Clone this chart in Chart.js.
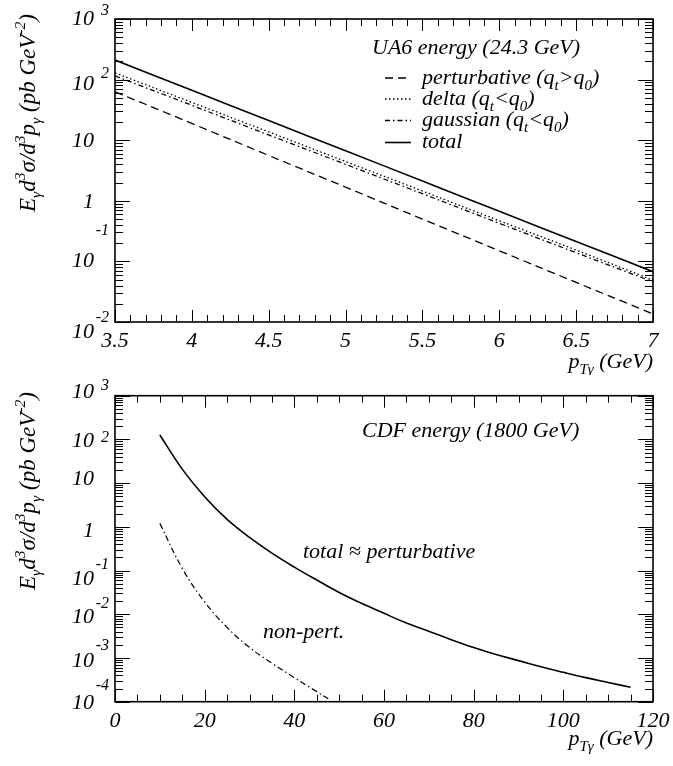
<!DOCTYPE html>
<html lang="en">
<head>
<meta charset="UTF-8">
<title>Direct photon cross sections</title>
<script src="https://cdn.jsdelivr.net/npm/chart.js@4/dist/chart.umd.min.js"></script>
<style>
    body { margin: 0; background: #fff; }
    .box { position: absolute; left: 0; width: 673px; }
</style>
</head>
<body>

<div class="box" style="top: 0; height: 375px"><canvas id="chartTop" width="673" height="375"></canvas></div>
<div class="box" style="top: 375px; height: 391px"><canvas id="chartBottom" width="673" height="391"></canvas></div>

<script type="text/javascript">

    // UA6 energy (24.3 GeV), pt in GeV, values in pb GeV^-2
    var ptUA6 = [3.5, 4.0, 4.5, 5.0, 5.5, 6.0, 6.5, 7.0];
    var ua6Perturbative = [63, 18.9, 5.6, 1.68, 0.50, 0.150, 0.045, 0.0136];
    var ua6Delta = [129, 42, 13.7, 4.45, 1.45, 0.47, 0.154, 0.049];
    var ua6Gaussian = [115, 37.6, 12.2, 4.0, 1.31, 0.425, 0.139, 0.046];
    var ua6Total = [210, 66.5, 21.1, 6.7, 2.12, 0.67, 0.213, 0.0676];

    // CDF energy (1800 GeV)
    var ptCDF = [10, 15, 20, 25, 30, 35, 40, 45, 50, 55, 60, 65, 70, 75, 80, 85, 90, 95, 100, 105, 110, 115];
    var cdfTotal = [126, 20.9, 4.9, 1.48, 0.575, 0.251, 0.120, 0.0607, 0.0316, 0.0178, 0.0105, 0.0063,
        0.0041, 0.00263, 0.00174, 0.0012, 0.00087, 0.00063, 0.00047, 0.000355, 0.000275, 0.000214];
    var ptCDFNonPert = [10, 15, 20, 25, 30, 35, 40, 45, 48];
    var cdfNonPert = [1.2, 0.112, 0.0191, 0.0050, 0.00174, 0.00076, 0.000355, 0.00017, 0.00011];

    var xTicksUA6 = ["3.5", "4", "4.5", "5", "5.5", "6", "6.5", "7"];
    var xTicksCDF = ["0", "20", "40", "60", "80", "100", "120"];

    var FONT = '"Liberation Serif", "Times New Roman", serif';

    function pts(xs, ys) {
        return xs.map(function (x, i) { return {x: x, y: ys[i]}; });
    }

    // text with sub/superscripts: [text, 'n' | 'b' (sub) | 'p' (sup)]
    function richWidth(ctx, segs, size) {
        var w = 0;
        segs.forEach(function (s) {
            ctx.font = 'italic ' + (s[1] === 'n' ? size : size * 0.68) + 'px ' + FONT;
            w += ctx.measureText(s[0]).width;
        });
        return w;
    }

    function drawRich(ctx, segs, x, y, size) {
        var cx = x;
        segs.forEach(function (s) {
            var fs = s[1] === 'n' ? size : size * 0.68;
            var off = s[1] === 'b' ? size * 0.28 : (s[1] === 'p' ? -size * 0.42 : 0);
            ctx.font = 'italic ' + fs + 'px ' + FONT;
            ctx.fillText(s[0], cx, y + off);
            cx += ctx.measureText(s[0]).width;
        });
    }

    var yTitle = [["E", "n"], ["γ", "b"], ["d", "n"], ["3", "p"], ["σ", "n"], ["/d", "n"], ["3", "p"],
        ["p", "n"], ["γ", "b"], [" (pb GeV", "n"], ["-2", "p"], [")", "n"]];
    var xTitle = [["p", "n"], ["Tγ", "b"], [" (GeV)", "n"]];

    var framePlugin = {
        id: 'frame',
        afterDraw: function (chart, args, o) {
            var ctx = chart.ctx, a = chart.chartArea;
            var xs = chart.scales.x, ys = chart.scales.y;
            ctx.save();
            ctx.strokeStyle = '#000';
            ctx.fillStyle = '#000';

            // inward ticks on all four sides
            ctx.lineWidth = 1;
            ctx.beginPath();
            var n = Math.round((xs.max - xs.min) / o.xMinor);
            for (var i = 0; i <= n; i++) {
                var px = Math.round(xs.getPixelForValue(xs.min + i * o.xMinor)) + 0.5;
                var len = i % o.xEvery === 0 ? 12 : 7;
                ctx.moveTo(px, a.bottom); ctx.lineTo(px, a.bottom - len);
                ctx.moveTo(px, a.top); ctx.lineTo(px, a.top + len);
            }
            var e0 = Math.round(Math.log10(ys.min)), e1 = Math.round(Math.log10(ys.max));
            for (var e = e0; e <= e1; e++) {
                for (var m = 1; m <= 9; m++) {
                    if (e === e1 && m > 1) break;
                    var py = Math.round(ys.getPixelForValue(m * Math.pow(10, e))) + 0.5;
                    var ln = m === 1 ? 15 : 8;
                    ctx.moveTo(a.left, py); ctx.lineTo(a.left + ln, py);
                    ctx.moveTo(a.right, py); ctx.lineTo(a.right - ln, py);
                }
            }
            ctx.stroke();

            ctx.lineWidth = 1.6;
            ctx.strokeRect(a.left, a.top, a.right - a.left, a.bottom - a.top);

            // x tick labels
            ctx.font = 'italic 22px ' + FONT;
            ctx.textAlign = 'center';
            ctx.textBaseline = 'alphabetic';
            o.xLabels.forEach(function (t) {
                ctx.fillText(t, xs.getPixelForValue(parseFloat(t)), a.bottom + 25);
            });

            // y tick labels, 10 with exponent
            o.yLabels.forEach(function (l) {
                var ty = ys.getPixelForValue(Math.pow(10, l[0]));
                ctx.textAlign = 'right';
                ctx.font = 'italic 22px ' + FONT;
                ctx.fillText(l[0] === 0 ? '1' : '10', 94, ty + l[1]);
                if (l[0] !== 0 && l[0] !== 1) {
                    ctx.font = 'italic 16px ' + FONT;
                    ctx.fillText(String(l[0]), 109, ty + l[2]);
                }
            });

            // axis titles
            ctx.textAlign = 'left';
            var w = richWidth(ctx, yTitle, 23);
            ctx.save();
            ctx.translate(35, o.yTitleY);
            ctx.rotate(-Math.PI / 2);
            drawRich(ctx, yTitle, -w / 2, 0, 23);
            ctx.restore();
            var wx = richWidth(ctx, xTitle, 22);
            drawRich(ctx, xTitle, a.right - wx, o.xTitleY, 22);

            // annotations
            o.notes.forEach(function (t) {
                drawRich(ctx, t[0], t[1], t[2], 22);
            });

            // legend
            (o.legend || []).forEach(function (l) {
                var ds = chart.data.datasets[l[0]];
                ctx.lineWidth = ds.borderWidth;
                ctx.setLineDash(ds.borderDash || []);
                ctx.beginPath();
                ctx.moveTo(385, l[2] - 5.5);
                ctx.lineTo(411, l[2] - 5.5);
                ctx.stroke();
                ctx.setLineDash([]);
                drawRich(ctx, l[1], 422, l[2], 22);
            });
            ctx.restore();
        }
    };

    function baseOptions(pad, xmin, xmax, ymin, ymax, frame) {
        return {
            responsive: false,
            animation: false,
            layout: {padding: pad},
            scales: {
                x: {type: 'linear', min: xmin, max: xmax, display: false},
                y: {type: 'logarithmic', min: ymin, max: ymax, display: false}
            },
            elements: {point: {radius: 0}},
            plugins: {legend: {display: false}, tooltip: {enabled: false}, frame: frame}
        };
    }

    function line(data, dash, width) {
        return {
            data: data,
            borderColor: '#000',
            borderWidth: width,
            borderDash: dash,
            fill: false,
            tension: 0.4
        };
    }

    new Chart(document.getElementById("chartTop"), {
        type: 'line',
        data: {
            datasets: [
                line(pts(ptUA6, ua6Perturbative), [8, 5], 1.3),
                line(pts(ptUA6, ua6Delta), [1.5, 2.5], 1.3),
                line(pts(ptUA6, ua6Gaussian), [5, 3, 1.5, 3], 1.3),
                line(pts(ptUA6, ua6Total), [], 1.6)
            ]
        },
        options: baseOptions({left: 115, right: 20, top: 19, bottom: 53}, 3.5, 7, 0.01, 1000, {
            xMinor: 0.1, xEvery: 5, xLabels: xTicksUA6,
            yLabels: [[3, 6, -4], [2, 10, -2], [1, 6.5, 0], [0, 7.5, 0], [-1, 5.5, -26], [-2, 16, 0]],
            yTitleY: 113, xTitleY: 368,
            notes: [[[["UA6 energy (24.3 GeV)", "n"]], 372, 53.5]],
            legend: [
                [0, [["perturbative (q", "n"], ["t", "b"], [">q", "n"], ["0", "b"], [")", "n"]], 83.5],
                [1, [["delta (q", "n"], ["t", "b"], ["<q", "n"], ["0", "b"], [")", "n"]], 104.5],
                [2, [["gaussian (q", "n"], ["t", "b"], ["<q", "n"], ["0", "b"], [")", "n"]], 126],
                [3, [["total", "n"]], 148]
            ]
        }),
        plugins: [framePlugin]
    });

    new Chart(document.getElementById("chartBottom"), {
        type: 'line',
        data: {
            datasets: [
                line(pts(ptCDF, cdfTotal), [], 1.6),
                line(pts(ptCDFNonPert, cdfNonPert), [6, 3, 1.5, 3], 1.2)
            ]
        },
        options: baseOptions({left: 115, right: 20, top: 20.7, bottom: 64.3}, 0, 120, 0.0001, 1000, {
            xMinor: 5, xEvery: 4, xLabels: xTicksCDF,
            yLabels: [[3, 2.5, -5.5], [2, 8, 3], [1, 2, 0], [0, 10, 0], [-1, 14, -2], [-2, 9, -6], [-3, 9, -8], [-4, 7, -11.5]],
            yTitleY: 116, xTitleY: 370,
            notes: [
                [[["CDF energy (1800 GeV)", "n"]], 362, 61.7],
                [[["total ≈ perturbative", "n"]], 303, 183.3],
                [[["non-pert.", "n"]], 263, 263.3]
            ]
        }),
        plugins: [framePlugin]
    });
</script>

</body>
</html>
